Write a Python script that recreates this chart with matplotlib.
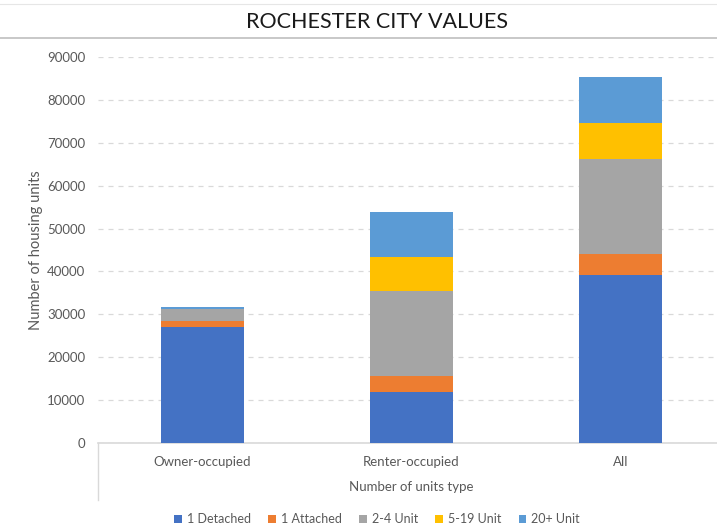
import matplotlib.pyplot as plt
from matplotlib.lines import Line2D
import numpy as np

plt.rcParams['font.family'] = ['Lato', 'DejaVu Sans']

categories = ['Owner-occupied', 'Renter-occupied', 'All']
series_names = ['1 Detached', '1 Attached', '2-4 Unit', '5-19 Unit', '20+ Unit']
detached = [26950, 11850, 39070]
attached = [1450, 3870, 4900]
unit_2_4 = [2850, 19630, 22220]
unit_5_19 = [60, 8040, 8360]
unit_20 = [320, 10510, 10890]
yticks = list(range(0, 90001, 10000))

colors = ['#4472C4', '#ED7D31', '#A5A5A5', '#FFC000', '#5B9BD5']
grey_text = '#595959'

W, H = 717, 527
fig = plt.figure(figsize=(W / 100, H / 100), dpi=100)

# plot area runs a little past the right edge, as in the screenshot
ax = fig.add_axes([98 / W, 1 - 443 / H, 627 / W, (443 - 57) / H])

x = np.arange(len(categories))
bottom = np.zeros(len(categories))
for name, vals, c in zip(series_names,
                         [detached, attached, unit_2_4, unit_5_19, unit_20],
                         colors):
    ax.bar(x, vals, width=0.4, bottom=bottom, color=c, label=name, zorder=3)
    bottom += np.array(vals)

ax.set_xlim(-0.5, 2.5)
ax.set_ylim(0, 90000)
ax.set_yticks(yticks)
ax.set_yticklabels([str(v) for v in yticks])
ax.set_xticks(x)
ax.set_xticklabels(categories)
ax.tick_params(axis='both', length=0, labelsize=9.5, colors=grey_text)
ax.tick_params(axis='y', pad=9)
ax.tick_params(axis='x', pad=9)

ax.grid(axis='y', color='#d9d9d9', linestyle=(0, (4, 4)), linewidth=0.9, zorder=0)
for s in ['top', 'right', 'left']:
    ax.spines[s].set_visible(False)
ax.spines['bottom'].set_color('#d9d9d9')
ax.spines['bottom'].set_linewidth(1.2)

ax.set_ylabel('Number of housing units', fontsize=10.5, color=grey_text)
ax.yaxis.set_label_coords(-0.087, 0.5)
ax.set_xlabel('Number of units type', fontsize=9.5, color=grey_text, labelpad=10)

fig.text(377 / W, 1 - 22 / H, 'ROCHESTER CITY VALUES', ha='center', va='center',
         fontsize=15.5, color='#1a1a1a')

# frame lines around title and category area
fig.add_artist(Line2D([0, 1], [1 - 38 / H, 1 - 38 / H], color='#bfbfbf', lw=1.2))
fig.add_artist(Line2D([0, 1], [1 - 4 / H, 1 - 4 / H], color='#e6e6e6', lw=0.8))
fig.add_artist(Line2D([98 / W, 98 / W], [1 - 443 / H, 1 - 500 / H], color='#d9d9d9', lw=1))

fig.legend(loc='center', bbox_to_anchor=(377 / W, 1 - 519 / H), ncol=5,
           frameon=False, fontsize=9, handlelength=0.6, handleheight=0.6,
           handletextpad=0.4, columnspacing=1.4, labelcolor=grey_text)

fig.savefig('out.png', dpi=100, facecolor='white')
